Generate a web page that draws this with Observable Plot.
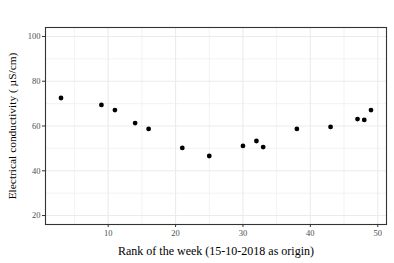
<!DOCTYPE html>
<html>
<head>
<meta charset="utf-8">
<script src="https://cdn.jsdelivr.net/npm/d3@7"></script>
<script src="https://cdn.jsdelivr.net/npm/@observablehq/plot@0.6"></script>
<style>
  html, body { margin: 0; padding: 0; background: #fff; }
</style>
</head>
<body>
<div id="chart"></div>
<script>
const weeks = [3, 9, 11, 14, 16, 21, 25, 30, 32, 33, 38, 43, 47, 48, 49];
const conductivity = [72.5, 69.4, 67.1, 61.3, 58.7, 50.2, 46.6, 51.1, 53.3, 50.6, 58.7, 59.6, 63.1, 62.7, 67.1];
const xTicks = [10, 20, 30, 40, 50];
const xMinor = [5, 15, 25, 35, 45];
const yTicks = [20, 40, 60, 80, 100];
const yMinor = [30, 50, 70, 90];
const xTitle = "Rank of the week (15-10-2018 as origin)";
const yTitle = "Electrical conductivity ( µS/cm)";

const data = weeks.map((w, i) => ({week: w, ec: conductivity[i]}));

const chart = Plot.plot({
  width: 394,
  height: 263,
  marginLeft: 45,
  marginRight: 8,
  marginTop: 27,
  marginBottom: 39,
  style: {fontFamily: "'Liberation Serif', serif", background: "#fff"},
  x: {domain: [0.7, 51.3]},
  y: {domain: [16, 104]},
  marks: [
    Plot.ruleX(xMinor, {stroke: "#EBEBEB", strokeWidth: 0.6}),
    Plot.ruleY(yMinor, {stroke: "#EBEBEB", strokeWidth: 0.6}),
    Plot.ruleX(xTicks, {stroke: "#EBEBEB", strokeWidth: 1.1}),
    Plot.ruleY(yTicks, {stroke: "#EBEBEB", strokeWidth: 1.1}),
    Plot.frame({stroke: "#333333", strokeWidth: 1.1}),
    Plot.axisX({ticks: xTicks, tickSize: 3, tickPadding: 2, fontSize: 8.5, color: "#4D4D4D", stroke: "#333333", label: null}),
    Plot.axisY({ticks: yTicks, tickSize: 3, tickPadding: 2, fontSize: 8.5, color: "#4D4D4D", stroke: "#333333", label: null}),
    Plot.dot(data, {x: "week", y: "ec", r: 2.4, fill: "black", stroke: "none"}),
    Plot.text([xTitle], {frameAnchor: "bottom", dy: 27, fontSize: 12, fill: "black", lineAnchor: "middle"}),
    Plot.text([yTitle], {frameAnchor: "left", dx: -33, rotate: -90, textAnchor: "middle", lineAnchor: "middle", fontSize: 11.4, fill: "black"})
  ]
});
document.getElementById("chart").appendChild(chart);
</script>
</body>
</html>
